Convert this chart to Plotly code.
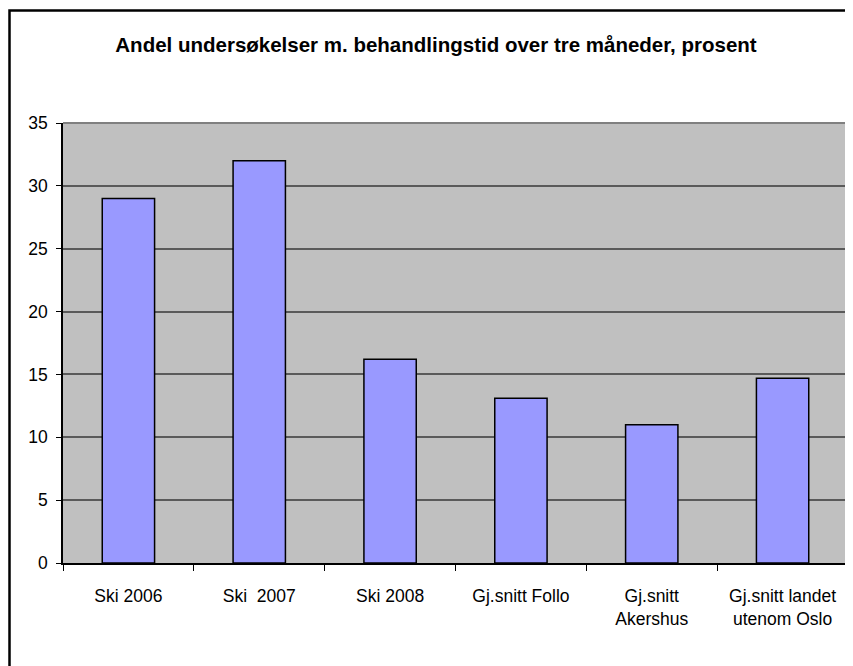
import plotly.graph_objects as go

categories = ["Ski 2006", "Ski\u00a0 2007", "Ski 2008", "Gj.snitt Follo",
              "Gj.snitt<br>Akershus", "Gj.snitt landet<br>utenom Oslo"]
values = [29, 32, 16.2, 13.1, 11, 14.7]
y_ticks = [0, 5, 10, 15, 20, 25, 30, 35]

fig = go.Figure(go.Bar(x=categories, y=values,
                       marker_color="#9999FF",
                       marker_line=dict(color="black", width=1.5)))

# the page adds an 8px body margin, so the figure itself is offset
W, H = 853, 666
L, T = 55, 115
plot_right, plot_bottom = 840, 555
R, B = W - plot_right, H - plot_bottom
pw, ph = plot_right - L, plot_bottom - T

fig.update_layout(
    width=W, height=H,
    margin=dict(l=L, r=R, t=T, b=B),
    paper_bgcolor="white", plot_bgcolor="#C0C0C0",
    bargap=0.6, showlegend=False,
    font=dict(family="Liberation Sans, Arial", size=17.5, color="black"),
    title=dict(text="<b>Andel undersøkelser m. behandlingstid over tre måneder, prosent</b>",
               xref="paper", x=(428 - L) / pw, xanchor="center",
               y=1 - 37 / H, yanchor="middle",
               font=dict(size=20.5)),
)
fig.update_xaxes(showgrid=False, ticks="outside", ticklen=6, tickcolor="black",
                 tickson="boundaries", showline=True, linecolor="black", linewidth=1.5,
                 ticklabelstandoff=16)
fig.update_yaxes(range=[0, 35], tickvals=y_ticks, showgrid=True, gridcolor="#5a5a5a",
                 gridwidth=1.5, ticks="outside", ticklen=5, tickcolor="black",
                 showline=True, linecolor="black", linewidth=1.5, zeroline=False,
                 ticklabelstandoff=5)

# gray border on top/right of plot area
fig.add_shape(type="line", xref="paper", yref="paper", x0=0, x1=1, y0=1, y1=1,
              line=dict(color="#808080", width=2))
fig.add_shape(type="line", xref="paper", yref="paper", x0=1, x1=1, y0=0, y1=1,
              line=dict(color="#808080", width=2))
# outer chart frame (cropped at right and bottom)
fig.add_shape(type="rect", xref="paper", yref="paper",
              x0=(1.5 - L) / pw, x1=(900 - L) / pw,
              y0=(plot_bottom - 720) / ph, y1=(plot_bottom - 2.5) / ph,
              line=dict(color="black", width=2.5), layer="below")

fig.write_html("out.html")
